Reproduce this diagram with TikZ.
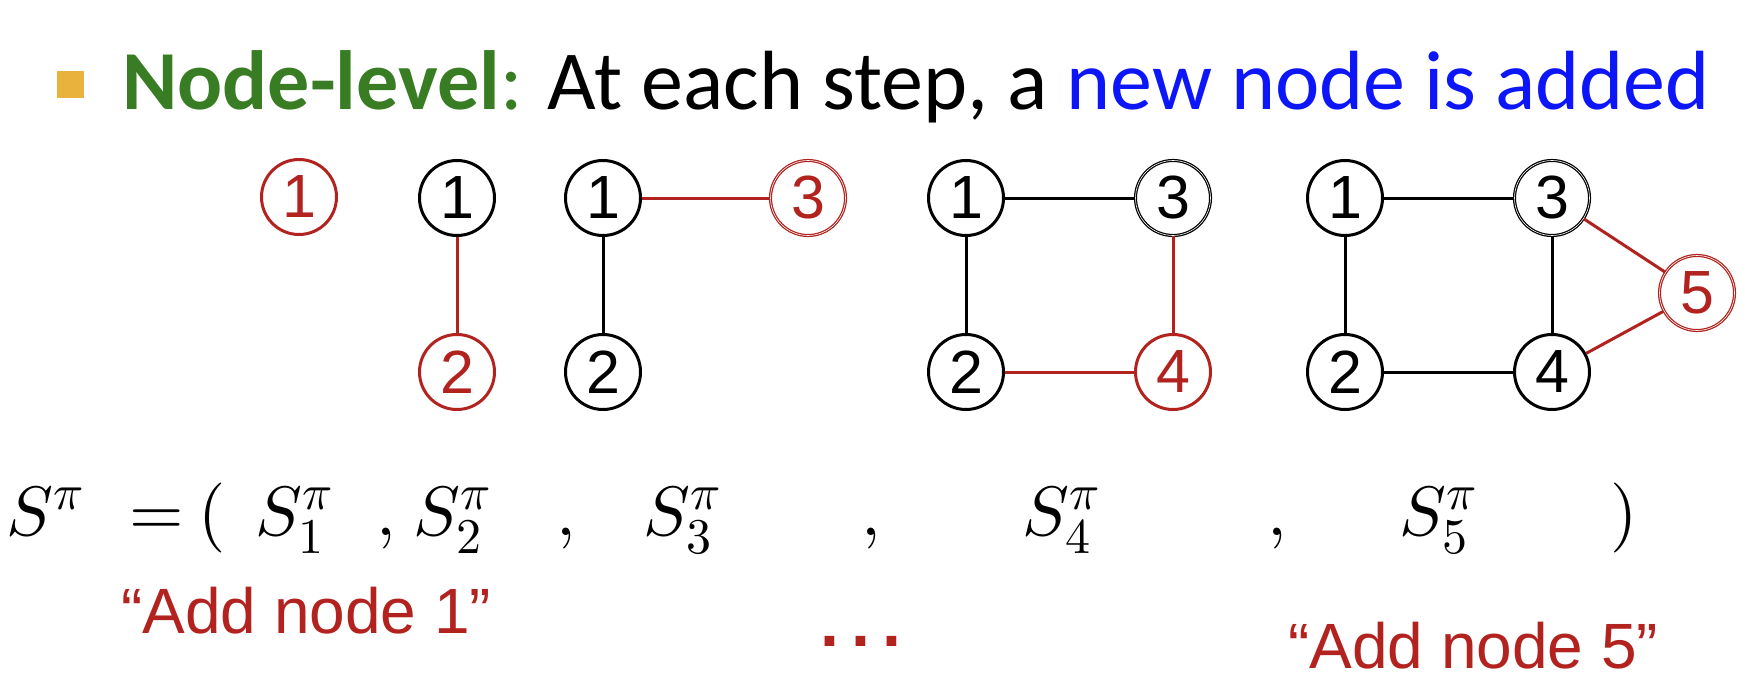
\documentclass[tikz,border=0pt]{standalone}
\DeclareFontShape{OML}{cmm}{m}{it}{<->cmmi10}{}
\DeclareFontShape{OT1}{cmr}{m}{n}{<->cmr10}{}
\DeclareFontShape{OMS}{cmsy}{m}{n}{<->cmsy10}{}
\DeclareFontShape{OMX}{cmex}{m}{n}{<->cmex10}{}
\DeclareMathSizes{70}{70}{50}{38}
\usepackage{fontspec}
\newfontfamily\calibri{Carlito}
\newfontfamily\arial{Liberation Sans}
\definecolor{tgreen}{RGB}{56,125,35}
\definecolor{tblue}{RGB}{12,22,248}
\definecolor{tred}{RGB}{178,34,30}
\definecolor{tbullet}{RGB}{232,178,60}
\begin{document}
\begin{tikzpicture}[x=1pt,y=-1pt,
  gnode/.style={circle,draw=black,line width=3pt,minimum size=75pt,inner sep=0pt,font=\arial\fontsize{61}{61}\selectfont},
  rnode/.style={gnode,draw=tred,text=tred},
  dbl/.style={line width=1.25pt,double=white,double distance=0.6pt},
  bedge/.style={draw=black,line width=3pt},
  redge/.style={draw=tred,line width=3pt},
  mathtxt/.style={inner sep=0pt,anchor=base,font=\fontsize{70}{80}\selectfont},
  redtxt/.style={inner sep=0pt,anchor=base west,text=tred,font=\arial\fontsize{64}{70}\selectfont}
]
\useasboundingbox (0,0) rectangle (1756,674);
% title
\node[fill=tbullet,minimum size=27pt,inner sep=0pt,anchor=north west] (bullet) at (57,71) {};
\node[inner sep=0pt,anchor=base west,font=\calibri\fontsize{84}{100}\selectfont] (title) at (122,110)
  {\textcolor{tgreen}{\bfseries Node-level}\textcolor{tgreen}{:} At each step, a \textcolor{tblue}{new node is added}};
% step 1
\node[rnode] (a1) at (299,197) {1};
% step 2
\node[gnode] (b1) at (457,198) {1};
\node[rnode] (b2) at (457,372) {2};
\draw[redge] (b1) -- (b2);
% step 3
\node[gnode] (c1) at (603,198) {1};
\node[gnode] (c2) at (603,372) {2};
\node[rnode,dbl] (c3) at (808,198) {3};
\draw[bedge] (c1) -- (c2);
\draw[redge] (c1) -- (c3);
% step 4
\node[gnode] (d1) at (966,198) {1};
\node[gnode,dbl] (d3) at (1173,198) {3};
\node[gnode] (d2) at (966,372) {2};
\node[rnode] (d4) at (1173,372) {4};
\draw[bedge] (d1) -- (d3);
\draw[bedge] (d1) -- (d2);
\draw[redge] (d3) -- (d4);
\draw[redge] (d2) -- (d4);
% step 5
\node[gnode] (e1) at (1345,198) {1};
\node[gnode,dbl] (e3) at (1552,198) {3};
\node[gnode] (e2) at (1345,372) {2};
\node[gnode] (e4) at (1552,372) {4};
\node[rnode,dbl] (e5) at (1697,293) {5};
\draw[bedge] (e1) -- (e3);
\draw[bedge] (e1) -- (e2);
\draw[bedge] (e3) -- (e4);
\draw[bedge] (e2) -- (e4);
\draw[redge] (e3) -- (e5);
\draw[redge] (e4) -- (e5);
% sequence
\node[mathtxt,anchor=base west] (s) at (6,535) {$S^{\pi}$};
\node[mathtxt] (eq) at (157,535) {$=$};
\node[mathtxt] (lp) at (212,535) {$($};
\node[mathtxt] (s1) at (294,535) {$S^{\pi}_{1}$};
\node[mathtxt] (k1) at (386,535) {$,$};
\node[mathtxt] (s2) at (452,535) {$S^{\pi}_{2}$};
\node[mathtxt] (k2) at (566,535) {$,$};
\node[mathtxt] (s3) at (682,535) {$S^{\pi}_{3}$};
\node[mathtxt] (k3) at (871,535) {$,$};
\node[mathtxt] (s4) at (1061,535) {$S^{\pi}_{4}$};
\node[mathtxt] (k4) at (1277,535) {$,$};
\node[mathtxt] (s5) at (1438,535) {$S^{\pi}_{5}$};
\node[mathtxt] (rp) at (1624,535) {$)$};
% labels
\node[redtxt] (l1) at (121,633) {“Add node 1”};
\node[redtxt] (l5) at (1288,668) {“Add node 5”};
\node[inner sep=0pt,anchor=base west,text=tred,font=\arial\bfseries\fontsize{68}{70}\selectfont] (dots) at (820,646) {.\hspace{12.5pt}.\hspace{12.5pt}.};
\end{tikzpicture}
\end{document}
